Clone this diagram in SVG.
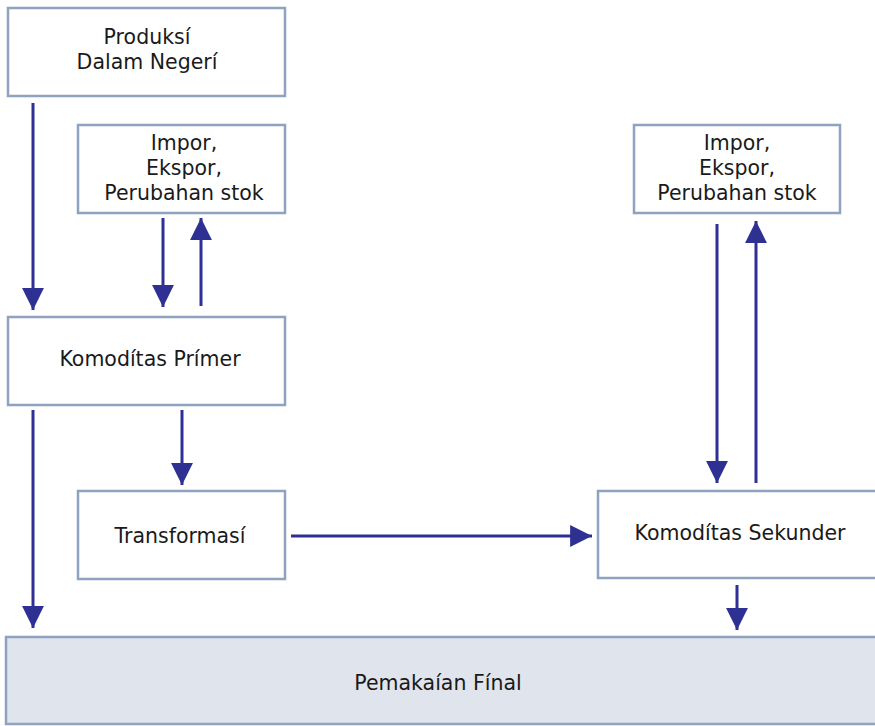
<svg xmlns="http://www.w3.org/2000/svg" width="875" height="726" viewBox="0 0 875 726">
  <defs>
    <marker id="head" viewBox="0 0 10 10" refX="10" refY="5" markerWidth="7.3" markerHeight="7.3" markerUnits="strokeWidth" orient="auto">
      <path d="M0,0 L10,5 L0,10 Z" fill="#2e3192"/>
    </marker>
    <style>
      .box { fill: #ffffff; stroke: #8fa2bf; stroke-width: 2.5; }
      .final { fill: #e0e4ed; stroke: #8fa2bf; stroke-width: 2.5; }
      .lbl { font-family: "DejaVu Sans", "Liberation Sans", sans-serif; font-size: 20.5px; fill: #1a1a1a; text-anchor: middle; }
      .wire { stroke: #2e3192; stroke-width: 3; fill: none; marker-end: url(#head); }
    </style>
  </defs>

  <g id="produksi">
    <rect class="box" x="8" y="8" width="277" height="88"/>
    <text class="lbl" x="147" y="44">Produksí</text>
    <text class="lbl" x="147" y="69">Dalam Negerí</text>
  </g>

  <g id="impor-primer">
    <rect class="box" x="78" y="125" width="207" height="88"/>
    <text class="lbl" x="184" y="150">Impor,</text>
    <text class="lbl" x="184" y="175">Ekspor,</text>
    <text class="lbl" x="184" y="200">Perubahan stok</text>
  </g>

  <g id="impor-sekunder">
    <rect class="box" x="634" y="125" width="206" height="88"/>
    <text class="lbl" x="737" y="150">Impor,</text>
    <text class="lbl" x="737" y="175">Ekspor,</text>
    <text class="lbl" x="737" y="200">Perubahan stok</text>
  </g>

  <g id="primer">
    <rect class="box" x="8" y="317" width="277" height="88"/>
    <text class="lbl" x="150" y="366">Komodítas Prímer</text>
  </g>

  <g id="transformasi">
    <rect class="box" x="78" y="491" width="207" height="88"/>
    <text class="lbl" x="180" y="543">Transformasí</text>
  </g>

  <g id="sekunder">
    <rect class="box" x="598" y="491" width="282" height="87"/>
    <text class="lbl" x="740" y="540">Komodítas Sekunder</text>
  </g>

  <g id="final">
    <rect class="final" x="6" y="637" width="874" height="87"/>
    <text class="lbl" x="438" y="690">Pemakaían Fínal</text>
  </g>

  <g id="connectors">
    <line class="wire" x1="33" y1="103" x2="33" y2="310"/>
    <line class="wire" x1="163" y1="218" x2="163" y2="307"/>
    <line class="wire" x1="201" y1="306" x2="201" y2="218"/>
    <line class="wire" x1="182" y1="410" x2="182" y2="485"/>
    <line class="wire" x1="33" y1="410" x2="33" y2="628"/>
    <line class="wire" x1="291" y1="536" x2="592" y2="536"/>
    <line class="wire" x1="717" y1="224" x2="717" y2="483"/>
    <line class="wire" x1="756" y1="483" x2="756" y2="221"/>
    <line class="wire" x1="737" y1="585" x2="737" y2="630"/>
  </g>
</svg>
